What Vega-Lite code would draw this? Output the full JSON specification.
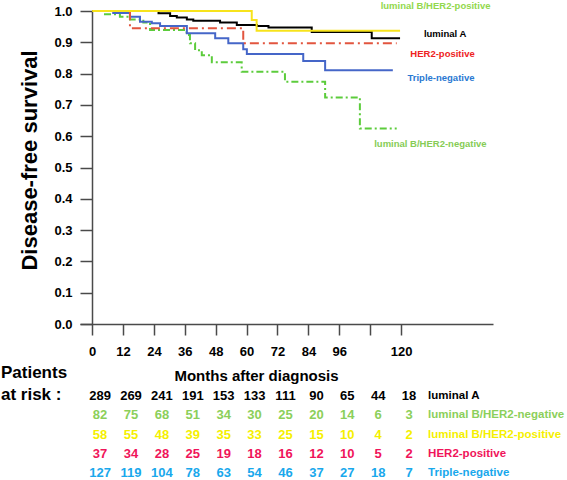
{
  "$schema": "https://vega.github.io/schema/vega-lite/v6.json",
  "width": 413,
  "height": 313,
  "autosize": {"type": "none"},
  "padding": {"left": 80, "top": 11, "right": 74, "bottom": 156},
  "background": "white",
  "config": {
    "view": {"stroke": null},
    "axis": {
      "grid": false,
      "domainColor": "#4a4a4a",
      "domainWidth": 1.5,
      "tickColor": "#4a4a4a",
      "tickWidth": 1.5,
      "labelFont": "Liberation Sans",
      "labelFontWeight": "bold",
      "labelFontSize": 13,
      "labelColor": "#000000",
      "labelOverlap": false,
      "titleFont": "Liberation Sans",
      "titleFontWeight": "bold",
      "titleColor": "#000000"
    },
    "text": {"font": "Liberation Sans", "fontWeight": "bold"}
  },
  "datasets": {
    "curves": [
      {"group": "luminal B/HER2-negative", "month": 0, "surv": 1.0},
      {"group": "luminal B/HER2-negative", "month": 4.4, "surv": 0.99},
      {"group": "luminal B/HER2-negative", "month": 10.8, "surv": 0.982},
      {"group": "luminal B/HER2-negative", "month": 14.7, "surv": 0.973},
      {"group": "luminal B/HER2-negative", "month": 19.9, "surv": 0.963},
      {"group": "luminal B/HER2-negative", "month": 22.5, "surv": 0.939},
      {"group": "luminal B/HER2-negative", "month": 36.7, "surv": 0.923},
      {"group": "luminal B/HER2-negative", "month": 38.0, "surv": 0.897},
      {"group": "luminal B/HER2-negative", "month": 40.0, "surv": 0.875},
      {"group": "luminal B/HER2-negative", "month": 42.6, "surv": 0.859},
      {"group": "luminal B/HER2-negative", "month": 46.5, "surv": 0.836},
      {"group": "luminal B/HER2-negative", "month": 58.1, "surv": 0.806},
      {"group": "luminal B/HER2-negative", "month": 74.9, "surv": 0.774},
      {"group": "luminal B/HER2-negative", "month": 90.5, "surv": 0.724},
      {"group": "luminal B/HER2-negative", "month": 104.0, "surv": 0.625},
      {"group": "luminal B/HER2-negative", "month": 118.3, "surv": 0.625},
      {"group": "Triple-negative", "month": 0, "surv": 1.0},
      {"group": "Triple-negative", "month": 8.2, "surv": 0.994},
      {"group": "Triple-negative", "month": 14.7, "surv": 0.982},
      {"group": "Triple-negative", "month": 18.6, "surv": 0.966},
      {"group": "Triple-negative", "month": 23.2, "surv": 0.961},
      {"group": "Triple-negative", "month": 26.4, "surv": 0.952},
      {"group": "Triple-negative", "month": 36.8, "surv": 0.929},
      {"group": "Triple-negative", "month": 47.8, "surv": 0.913},
      {"group": "Triple-negative", "month": 52.9, "surv": 0.897},
      {"group": "Triple-negative", "month": 58.7, "surv": 0.878},
      {"group": "Triple-negative", "month": 60.1, "surv": 0.863},
      {"group": "Triple-negative", "month": 82.0, "surv": 0.84},
      {"group": "Triple-negative", "month": 90.5, "surv": 0.811},
      {"group": "Triple-negative", "month": 116.8, "surv": 0.811},
      {"group": "HER2-positive", "month": 0, "surv": 1.0},
      {"group": "HER2-positive", "month": 14.7, "surv": 0.945},
      {"group": "HER2-positive", "month": 58.7, "surv": 0.897},
      {"group": "HER2-positive", "month": 118.3, "surv": 0.897},
      {"group": "luminal A", "month": 0, "surv": 1.0},
      {"group": "luminal A", "month": 25.8, "surv": 0.993},
      {"group": "luminal A", "month": 30.3, "surv": 0.984},
      {"group": "luminal A", "month": 32.9, "surv": 0.979},
      {"group": "luminal A", "month": 36.8, "surv": 0.973},
      {"group": "luminal A", "month": 39.3, "surv": 0.969},
      {"group": "luminal A", "month": 49.7, "surv": 0.963},
      {"group": "luminal A", "month": 56.2, "surv": 0.955},
      {"group": "luminal A", "month": 64.0, "surv": 0.952},
      {"group": "luminal A", "month": 68.5, "surv": 0.947},
      {"group": "luminal A", "month": 85.3, "surv": 0.933},
      {"group": "luminal A", "month": 108.6, "surv": 0.913},
      {"group": "luminal A", "month": 119.6, "surv": 0.913},
      {"group": "luminal B/HER2-positive", "month": 0, "surv": 1.0},
      {"group": "luminal B/HER2-positive", "month": 62.0, "surv": 0.971},
      {"group": "luminal B/HER2-positive", "month": 63.9, "surv": 0.937},
      {"group": "luminal B/HER2-positive", "month": 119.6, "surv": 0.937}
    ],
    "labels": [
      {"label": "luminal B/HER2-positive", "month": 133.4, "surv": 1.015},
      {"label": "luminal A", "month": 137.1, "surv": 0.928},
      {"label": "HER2-positive", "month": 136.1, "surv": 0.864},
      {"label": "Triple-negative", "month": 135.5, "surv": 0.787},
      {"label": "luminal B/HER2-negative", "month": 131.4, "surv": 0.575}
    ],
    "risk": [
      {"group": "luminal A", "month": 0, "n": 289},
      {"group": "luminal A", "month": 12, "n": 269},
      {"group": "luminal A", "month": 24, "n": 241},
      {"group": "luminal A", "month": 36, "n": 191},
      {"group": "luminal A", "month": 48, "n": 153},
      {"group": "luminal A", "month": 60, "n": 133},
      {"group": "luminal A", "month": 72, "n": 111},
      {"group": "luminal A", "month": 84, "n": 90},
      {"group": "luminal A", "month": 96, "n": 65},
      {"group": "luminal A", "month": 108, "n": 44},
      {"group": "luminal A", "month": 120, "n": 18},
      {"group": "luminal B/HER2-negative", "month": 0, "n": 82},
      {"group": "luminal B/HER2-negative", "month": 12, "n": 75},
      {"group": "luminal B/HER2-negative", "month": 24, "n": 68},
      {"group": "luminal B/HER2-negative", "month": 36, "n": 51},
      {"group": "luminal B/HER2-negative", "month": 48, "n": 34},
      {"group": "luminal B/HER2-negative", "month": 60, "n": 30},
      {"group": "luminal B/HER2-negative", "month": 72, "n": 25},
      {"group": "luminal B/HER2-negative", "month": 84, "n": 20},
      {"group": "luminal B/HER2-negative", "month": 96, "n": 14},
      {"group": "luminal B/HER2-negative", "month": 108, "n": 6},
      {"group": "luminal B/HER2-negative", "month": 120, "n": 3},
      {"group": "luminal B/HER2-positive", "month": 0, "n": 58},
      {"group": "luminal B/HER2-positive", "month": 12, "n": 55},
      {"group": "luminal B/HER2-positive", "month": 24, "n": 48},
      {"group": "luminal B/HER2-positive", "month": 36, "n": 39},
      {"group": "luminal B/HER2-positive", "month": 48, "n": 35},
      {"group": "luminal B/HER2-positive", "month": 60, "n": 33},
      {"group": "luminal B/HER2-positive", "month": 72, "n": 25},
      {"group": "luminal B/HER2-positive", "month": 84, "n": 15},
      {"group": "luminal B/HER2-positive", "month": 96, "n": 10},
      {"group": "luminal B/HER2-positive", "month": 108, "n": 4},
      {"group": "luminal B/HER2-positive", "month": 120, "n": 2},
      {"group": "HER2-positive", "month": 0, "n": 37},
      {"group": "HER2-positive", "month": 12, "n": 34},
      {"group": "HER2-positive", "month": 24, "n": 28},
      {"group": "HER2-positive", "month": 36, "n": 25},
      {"group": "HER2-positive", "month": 48, "n": 19},
      {"group": "HER2-positive", "month": 60, "n": 18},
      {"group": "HER2-positive", "month": 72, "n": 16},
      {"group": "HER2-positive", "month": 84, "n": 12},
      {"group": "HER2-positive", "month": 96, "n": 10},
      {"group": "HER2-positive", "month": 108, "n": 5},
      {"group": "HER2-positive", "month": 120, "n": 2},
      {"group": "Triple-negative", "month": 0, "n": 127},
      {"group": "Triple-negative", "month": 12, "n": 119},
      {"group": "Triple-negative", "month": 24, "n": 104},
      {"group": "Triple-negative", "month": 36, "n": 78},
      {"group": "Triple-negative", "month": 48, "n": 63},
      {"group": "Triple-negative", "month": 60, "n": 54},
      {"group": "Triple-negative", "month": 72, "n": 46},
      {"group": "Triple-negative", "month": 84, "n": 37},
      {"group": "Triple-negative", "month": 96, "n": 27},
      {"group": "Triple-negative", "month": 108, "n": 18},
      {"group": "Triple-negative", "month": 120, "n": 7}
    ],
    "groups": [
      {"group": "luminal A"},
      {"group": "luminal B/HER2-negative"},
      {"group": "luminal B/HER2-positive"},
      {"group": "HER2-positive"},
      {"group": "Triple-negative"}
    ],
    "header": [
      {"group": "luminal A", "text": "Patients\nat risk :"}
    ]
  },
  "layer": [
    {
      "layer": [
        {
          "data": {"name": "curves"},
          "mark": {"type": "line", "interpolate": "step-after", "strokeWidth": 2},
          "encoding": {
            "x": {
              "field": "month",
              "type": "quantitative",
              "scale": {"domain": [-4.7, 155.7], "nice": false, "zero": false},
              "axis": {
                "values": [0, 12, 24, 36, 48, 60, 72, 84, 96, 108, 120],
                "labelExpr": "datum.value == 108 ? '' : datum.label",
                "tickSize": 11,
                "labelPadding": 10,
                "title": "Months after diagnosis",
                "titleFontSize": 15,
                "titleX": 176,
                "titleY": 51,
                "titleAlign": "center",
                "titleBaseline": "middle"
              }
            },
            "y": {
              "field": "surv",
              "type": "quantitative",
              "scale": {"domain": [0, 1], "nice": false, "zero": false},
              "axis": {
                "values": [0, 0.1, 0.2, 0.3, 0.4, 0.5, 0.6, 0.7, 0.8, 0.9, 1.0],
                "tickCount": 11,
                "format": ".1f",
                "offset": -12,
                "tickSize": 12,
                "labelPadding": 8,
                "labelOverlap": false,
                "title": "Disease-free survival",
                "titleFontSize": 22,
                "titlePadding": 12,
                "titleY": 149
              }
            },
            "color": {
              "field": "group",
              "type": "nominal",
              "scale": {
                "domain": ["luminal A", "luminal B/HER2-negative", "luminal B/HER2-positive", "HER2-positive", "Triple-negative"],
                "range": ["#000000", "#5ccc3c", "#f7e31c", "#e2553f", "#4566c8"]
              },
              "legend": null
            },
            "strokeDash": {
              "field": "group",
              "type": "nominal",
              "scale": {
                "domain": ["luminal A", "luminal B/HER2-negative", "luminal B/HER2-positive", "HER2-positive", "Triple-negative"],
                "range": [[1, 0], [7, 3, 2, 3], [1, 0], [9, 4, 2, 4], [1, 0]]
              },
              "legend": null
            }
          }
        },
        {
          "data": {"name": "labels"},
          "mark": {"type": "text", "fontSize": 9.5, "align": "center", "baseline": "middle"},
          "encoding": {
            "x": {"field": "month", "type": "quantitative", "scale": {"domain": [-4.7, 155.7], "nice": false, "zero": false}},
            "y": {
              "field": "surv",
              "type": "quantitative",
              "scale": {"domain": [0, 1], "nice": false, "zero": false},
              "axis": {
                "values": [0, 0.1, 0.2, 0.3, 0.4, 0.5, 0.6, 0.7, 0.8, 0.9, 1.0],
                "tickCount": 11,
                "format": ".1f",
                "offset": -12,
                "tickSize": 12,
                "labelPadding": 8,
                "labelOverlap": false,
                "title": "Disease-free survival",
                "titleFontSize": 22,
                "titlePadding": 12,
                "titleY": 149
              }
            },
            "text": {"field": "label"},
            "color": {
              "field": "label",
              "type": "nominal",
              "scale": {
                "domain": ["luminal B/HER2-positive", "luminal A", "HER2-positive", "Triple-negative", "luminal B/HER2-negative"],
                "range": ["#92d84c", "#000000", "#ee2222", "#2a78d2", "#86cc55"]
              },
              "legend": null
            }
          }
        }
      ],
      "resolve": {"scale": {"color": "independent"}}
    },
    {
      "layer": [
        {
          "data": {"name": "risk"},
          "mark": {"type": "text", "fontSize": 13, "align": "center", "baseline": "middle", "dx": 8},
          "encoding": {
            "x": {"field": "month", "type": "quantitative", "scale": {"domain": [-4.7, 155.7], "nice": false, "zero": false}},
            "y": {
              "field": "group",
              "type": "nominal",
              "scale": {"type": "point", "domain": ["luminal A", "luminal B/HER2-negative", "luminal B/HER2-positive", "HER2-positive", "Triple-negative"], "range": [384.7, 462.3], "padding": 0},
              "axis": null
            },
            "text": {"field": "n"},
            "color": {
              "field": "group",
              "type": "nominal",
              "scale": {
                "domain": ["luminal A", "luminal B/HER2-negative", "luminal B/HER2-positive", "HER2-positive", "Triple-negative"],
                "range": ["#000000", "#8ccf5a", "#f5f000", "#f0145a", "#19a8ec"]
              },
              "legend": null
            }
          }
        },
        {
          "data": {"name": "groups"},
          "mark": {"type": "text", "fontSize": 11.5, "align": "left", "baseline": "middle"},
          "encoding": {
            "x": {"datum": 130.5, "type": "quantitative", "scale": {"domain": [-4.7, 155.7], "nice": false, "zero": false}},
            "y": {
              "field": "group",
              "type": "nominal",
              "scale": {"type": "point", "domain": ["luminal A", "luminal B/HER2-negative", "luminal B/HER2-positive", "HER2-positive", "Triple-negative"], "range": [384.7, 462.3], "padding": 0},
              "axis": null
            },
            "text": {"field": "group"},
            "color": {
              "field": "group",
              "type": "nominal",
              "scale": {
                "domain": ["luminal A", "luminal B/HER2-negative", "luminal B/HER2-positive", "HER2-positive", "Triple-negative"],
                "range": ["#000000", "#8ccf5a", "#f5f000", "#f0145a", "#19a8ec"]
              },
              "legend": null
            }
          }
        },
        {
          "data": {"name": "header"},
          "mark": {"type": "text", "fontSize": 17, "align": "left", "baseline": "bottom", "lineBreak": "\n", "lineHeight": 22, "dy": -14, "color": "#000000"},
          "encoding": {
            "x": {"datum": -35.4, "type": "quantitative", "scale": {"domain": [-4.7, 155.7], "nice": false, "zero": false}},
            "y": {
              "field": "group",
              "type": "nominal",
              "scale": {"type": "point", "domain": ["luminal A", "luminal B/HER2-negative", "luminal B/HER2-positive", "HER2-positive", "Triple-negative"], "range": [384.7, 462.3], "padding": 0},
              "axis": null
            },
            "text": {"field": "text"}
          }
        }
      ]
    }
  ],
  "resolve": {"scale": {"y": "independent", "color": "independent"}}
}
